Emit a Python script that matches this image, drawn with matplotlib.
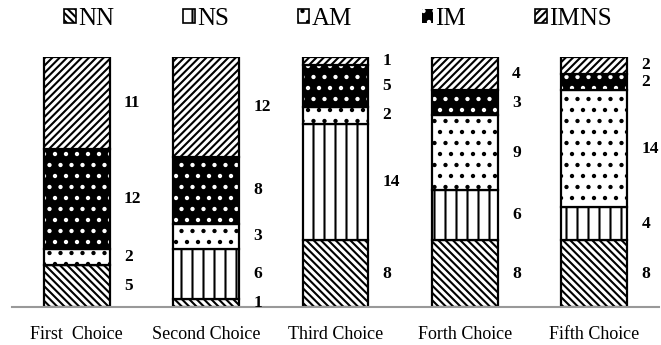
import numpy as np
import matplotlib
matplotlib.use("Agg")
import matplotlib.pyplot as plt
from matplotlib.patches import Patch

# data
choices = ["First  Choice", "Second Choice", "Third Choice", "Forth Choice", "Fifth Choice"]
NN = [5, 1, 8, 8, 8]
NS = [0, 6, 14, 6, 4]
AM = [2, 3, 2, 9, 14]
IM = [12, 8, 5, 3, 2]
IMNS = [11, 12, 1, 4, 2]

series = [("NN", NN), ("NS", NS), ("AM", AM), ("IM", IM), ("IMNS", IMNS)]
styles = {
    "NN": dict(face="white", hatch="\\\\\\", hcol="black"),
    "NS": dict(face="white", hatch="|", hcol="black"),
    "AM": dict(face="white", hatch=".", hcol="black"),
    "IM": dict(face="black", hatch=".", hcol="white"),
    "IMNS": dict(face="white", hatch="///", hcol="black"),
}

# lower dpi so the hatch spacing gets closer to the reference;
# k scales point sizes back to what they'd be at 100 dpi
DPI = 66.1
k = 100 / DPI

plt.rcParams['font.family'] = ['Liberation Serif', 'DejaVu Serif']
plt.rcParams['hatch.linewidth'] = 1.5 * k

fig = plt.figure(figsize=(661 / DPI, 345 / DPI), dpi=DPI)
ax = fig.add_axes([12 / 661, 38 / 345, 647 / 661, 250 / 345])

x = np.arange(len(choices))
w = 0.51
bottom = np.zeros(len(choices))
for name, vals in series:
    vals = np.array(vals, dtype=float)
    st = styles[name]
    # hatch colour follows edgecolor, so draw hatch first, then outline
    ax.bar(x, vals, w, bottom=bottom, color=st["face"], hatch=st["hatch"],
           edgecolor=st["hcol"], linewidth=0)
    ax.bar(x, vals, w, bottom=bottom, fill=False, edgecolor="black", linewidth=1.6 * k)
    for i, v in enumerate(vals):
        if v > 0:
            ax.text(x[i] + w / 2 + 0.11, bottom[i] + v / 2, str(int(v)),
                    ha="left", va="center", fontsize=12.5 * k, fontweight="bold")
    bottom += vals

ax.set_xlim(-0.5, len(choices) - 0.5)
ax.set_ylim(0, 30)
ax.set_xticks(x)
ax.set_xticklabels(choices, fontsize=13 * k)
ax.tick_params(axis="x", length=0, pad=14 * k)
ax.set_yticks([])
for s in ["top", "right", "left"]:
    ax.spines[s].set_visible(False)
ax.spines["bottom"].set_color("#999999")
ax.spines["bottom"].set_linewidth(1.5 * k)

handles = []
for name, _ in series:
    st = styles[name]
    if name == "IM":
        handles.append(Patch(facecolor="black", hatch=st["hatch"], edgecolor="white",
                             linewidth=0, label=name))
    else:
        handles.append(Patch(facecolor=st["face"], hatch=st["hatch"], edgecolor="black",
                             linewidth=1.2 * k, label=name))
fig.legend(handles=handles, loc="center", bbox_to_anchor=(338 / 661, 1 - 19 / 345), ncol=5,
           frameon=False, fontsize=18 * k, handlelength=0.45, handleheight=0.45,
           handletextpad=0.1, columnspacing=2.77, borderpad=0)

fig.savefig("out.png", dpi=DPI)
